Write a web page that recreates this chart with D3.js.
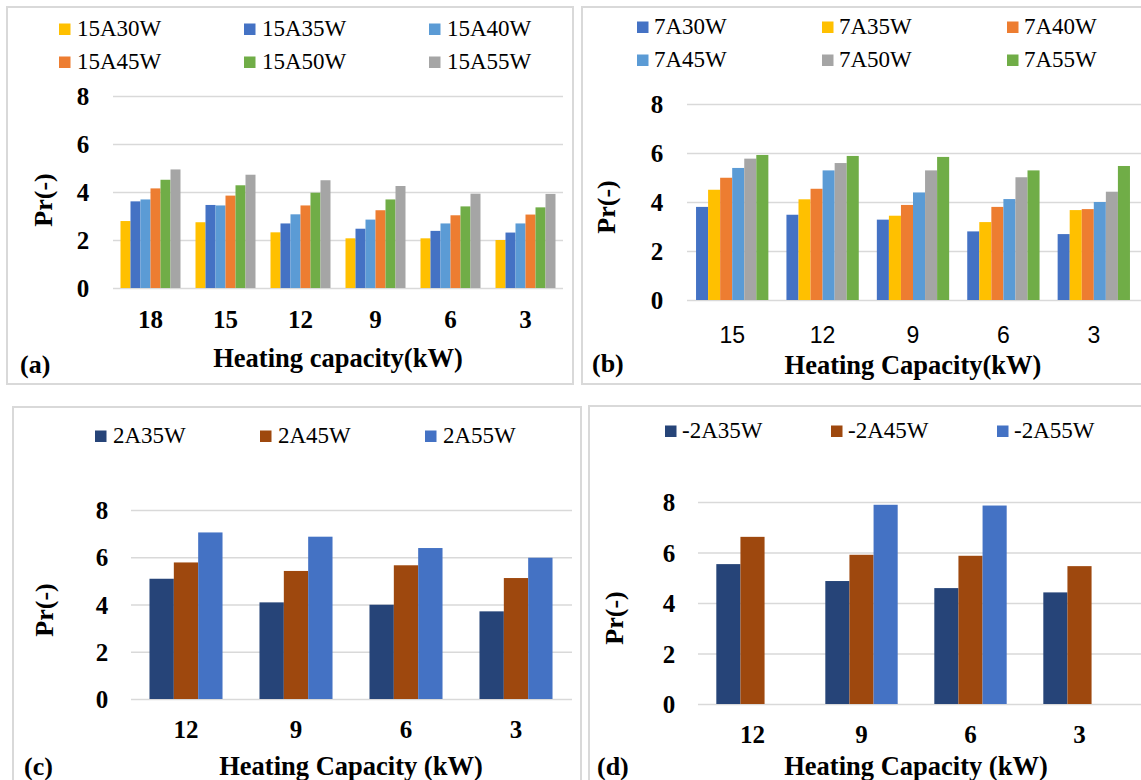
<!DOCTYPE html>
<html>
<head>
<meta charset="utf-8">
<script src="https://cdn.jsdelivr.net/npm/d3@7"></script>
<style>
  body { margin: 0; background: #fff; }
  svg { display: block; }
  text { font-family: "Liberation Serif", "Times New Roman", serif; fill: #000; }
</style>
</head>
<body>
<div id="chart"></div>
<script>
// ---- panel (a): 15 degC ambient ----
const capA = ["18", "15", "12", "9", "6", "3"];
const seriesA = ["15A30W", "15A35W", "15A40W", "15A45W", "15A50W", "15A55W"];
const colorsA = ["#FFC000", "#4472C4", "#5B9BD5", "#ED7D31", "#70AD47", "#A5A5A5"];
const a30 = [2.79, 2.74, 2.32, 2.07, 2.07, 2.00];
const a35 = [3.61, 3.46, 2.69, 2.47, 2.38, 2.31];
const a40 = [3.69, 3.44, 3.07, 2.85, 2.69, 2.69];
const a45 = [4.15, 3.85, 3.44, 3.24, 3.03, 3.06];
const a50 = [4.51, 4.28, 3.97, 3.69, 3.40, 3.36];
const a55 = [4.94, 4.72, 4.49, 4.25, 3.93, 3.92];

// ---- panel (b): 7 degC ambient ----
const capB = ["15", "12", "9", "6", "3"];
const seriesB = ["7A30W", "7A35W", "7A40W", "7A45W", "7A50W", "7A55W"];
const colorsB = ["#4472C4", "#FFC000", "#ED7D31", "#5B9BD5", "#A5A5A5", "#70AD47"];
const b30 = [3.80, 3.48, 3.28, 2.80, 2.69];
const b35 = [4.50, 4.11, 3.44, 3.18, 3.67];
const b40 = [4.99, 4.54, 3.88, 3.80, 3.71];
const b45 = [5.39, 5.29, 4.39, 4.12, 4.00];
const b50 = [5.77, 5.59, 5.29, 5.01, 4.42];
const b55 = [5.92, 5.88, 5.84, 5.29, 5.47];

// ---- panel (c): 2 degC ambient ----
const capC = ["12", "9", "6", "3"];
const seriesC = ["2A35W", "2A45W", "2A55W"];
const colorsC = ["#264478", "#9E480E", "#4472C4"];
const c35 = [5.09, 4.09, 3.99, 3.71];
const c45 = [5.78, 5.42, 5.66, 5.12];
const c55 = [7.05, 6.87, 6.39, 5.98];

// ---- panel (d): -2 degC ambient ----
const capD = ["12", "9", "6", "3"];
const seriesD = ["-2A35W", "-2A45W", "-2A55W"];
const colorsD = ["#264478", "#9E480E", "#4472C4"];
const d35 = [5.54, 4.87, 4.59, 4.42];
const d45 = [6.62, 5.91, 5.87, 5.46];
const d55 = [null, 7.89, 7.86, null];

const yTicks = [0, 2, 4, 6, 8];

const W = 1141, H = 780;
const svg = d3.select("#chart").append("svg")
    .attr("width", W)
    .attr("height", H);

svg.append("rect").attr("width", W).attr("height", H).attr("fill", "#fff");

function drawPanel(p) {
    // frame
    svg.append("rect")
        .attr("x", p.box[0]).attr("y", p.box[1])
        .attr("width", p.box[2]).attr("height", p.box[3])
        .attr("fill", "none")
        .attr("stroke", "#d9d9d9")
        .attr("stroke-width", 2);

    const x = d3.scaleBand()
        .domain(p.cats)
        .range([p.left, p.right])
        .paddingInner(p.padIn)
        .paddingOuter(p.padIn / 2);
    const xs = d3.scaleBand()
        .domain(p.series)
        .range([0, x.bandwidth()]);
    const y = d3.scaleLinear()
        .domain([0, 8])
        .range([p.bottom, p.top]);

    // gridlines + y labels
    const gy = svg.append("g")
        .attr("transform", "translate(" + p.left + ",0)")
        .call(d3.axisLeft(y)
            .tickValues(yTicks)
            .tickSize(-(p.gridRight - p.left))
            .tickFormat(d3.format("d")));
    gy.select(".domain").remove();
    gy.selectAll(".tick line")
        .attr("stroke", "#d9d9d9")
        .attr("stroke-width", 1.6);
    gy.selectAll(".tick text")
        .attr("x", p.yLabelX - p.left)
        .attr("dy", "0.34em")
        .attr("text-anchor", "middle")
        .style("font-family", "Liberation Serif, serif")
        .style("font-weight", "bold")
        .style("font-size", "25px");

    // bars
    p.values.forEach((vals, si) => {
        svg.append("g")
            .selectAll("rect")
            .data(vals.map((v, i) => ({cat: p.cats[i], v: v})).filter(d => d.v != null))
            .enter()
            .append("rect")
            .attr("x", d => x(d.cat) + xs(p.series[si]))
            .attr("y", d => y(d.v))
            .attr("width", xs.bandwidth())
            .attr("height", d => y(0) - y(d.v))
            .attr("fill", p.colors[si]);
    });

    // x labels
    const gx = svg.append("g")
        .attr("transform", "translate(0," + p.bottom + ")")
        .call(d3.axisBottom(x).tickSize(0));
    gx.select(".domain").remove();
    gx.selectAll(".tick text")
        .attr("y", p.xLabelBase - p.bottom)
        .attr("dy", 0)
        .style("font-family", p.xSans ? "Liberation Sans, Arial, sans-serif" : "Liberation Serif, serif")
        .style("font-weight", p.xSans ? "normal" : "bold")
        .style("font-size", p.xSans ? "23px" : "25px");

    // legend
    const leg = svg.append("g");
    p.series.forEach((s, i) => {
        const col = i % 3, row = Math.floor(i / 3);
        const lx = p.legX + col * p.legStep;
        const ly = p.legY[row];
        leg.append("rect")
            .attr("x", lx).attr("y", ly - 12.5)
            .attr("width", 11.5).attr("height", 11.5)
            .attr("fill", p.colors[i]);
        leg.append("text")
            .attr("x", lx + p.legGap)
            .attr("y", ly)
            .style("font-size", "23px")
            .text(s);
    });

    // axis titles
    svg.append("text")
        .attr("transform", "translate(" + p.yTitle[0] + "," + p.yTitle[1] + ") rotate(-90)")
        .attr("text-anchor", "middle")
        .attr("dominant-baseline", "central")
        .style("font-weight", "bold")
        .style("font-size", "26px")
        .text("Pr(-)");
    svg.append("text")
        .attr("x", (p.left + p.right) / 2)
        .attr("y", p.xTitleBase)
        .attr("text-anchor", "middle")
        .style("font-weight", "bold")
        .style("font-size", "26.5px")
        .text(p.xTitle);
    svg.append("text")
        .attr("x", p.tag[0])
        .attr("y", p.tag[1])
        .style("font-weight", "bold")
        .style("font-size", "26px")
        .text(p.tagText);
}

drawPanel({
    box: [7, 7, 566, 377],
    cats: capA, series: seriesA, colors: colorsA,
    values: [a30, a35, a40, a45, a50, a55],
    left: 113, right: 563, gridRight: 563, top: 96, bottom: 288, padIn: 0.2,
    yLabelX: 83, xLabelBase: 328,
    legX: 59, legStep: 185, legY: [36, 69], legGap: 18,
    yTitle: [43, 200], xTitle: "Heating capacity(kW)", xTitleBase: 367,
    tag: [20, 373], tagText: "(a)"
});

drawPanel({
    box: [582, 7, 600, 377],
    cats: capB, series: seriesB, colors: colorsB,
    values: [b30, b35, b40, b45, b50, b55],
    left: 687, right: 1139, gridRight: 1141, top: 104, bottom: 300, padIn: 0.2,
    yLabelX: 657, xLabelBase: 343, xSans: true,
    legX: 637, legStep: 185, legY: [34, 67], legGap: 17,
    yTitle: [606, 207], xTitle: "Heating Capacity(kW)", xTitleBase: 374,
    tag: [592, 372], tagText: "(b)"
});

drawPanel({
    box: [13, 407, 568, 400],
    cats: capC, series: seriesC, colors: colorsC,
    values: [c35, c45, c55],
    left: 131, right: 571, gridRight: 572, top: 510, bottom: 699, padIn: 0.336,
    yLabelX: 102, xLabelBase: 738,
    legX: 95, legStep: 165, legY: [443], legGap: 18,
    yTitle: [44, 610], xTitle: "Heating Capacity (kW)", xTitleBase: 775,
    tag: [24, 775], tagText: "(c)"
});

drawPanel({
    box: [589, 406, 600, 400],
    cats: capD, series: seriesD, colors: colorsD,
    values: [d35, d45, d55],
    left: 698, right: 1134, gridRight: 1141, top: 502, bottom: 704, padIn: 0.336,
    yLabelX: 669, xLabelBase: 743,
    legX: 665, legStep: 166, legY: [438], legGap: 17,
    yTitle: [614, 618], xTitle: "Heating Capacity (kW)", xTitleBase: 775,
    tag: [597, 775], tagText: "(d)"
});
</script>
</body>
</html>
